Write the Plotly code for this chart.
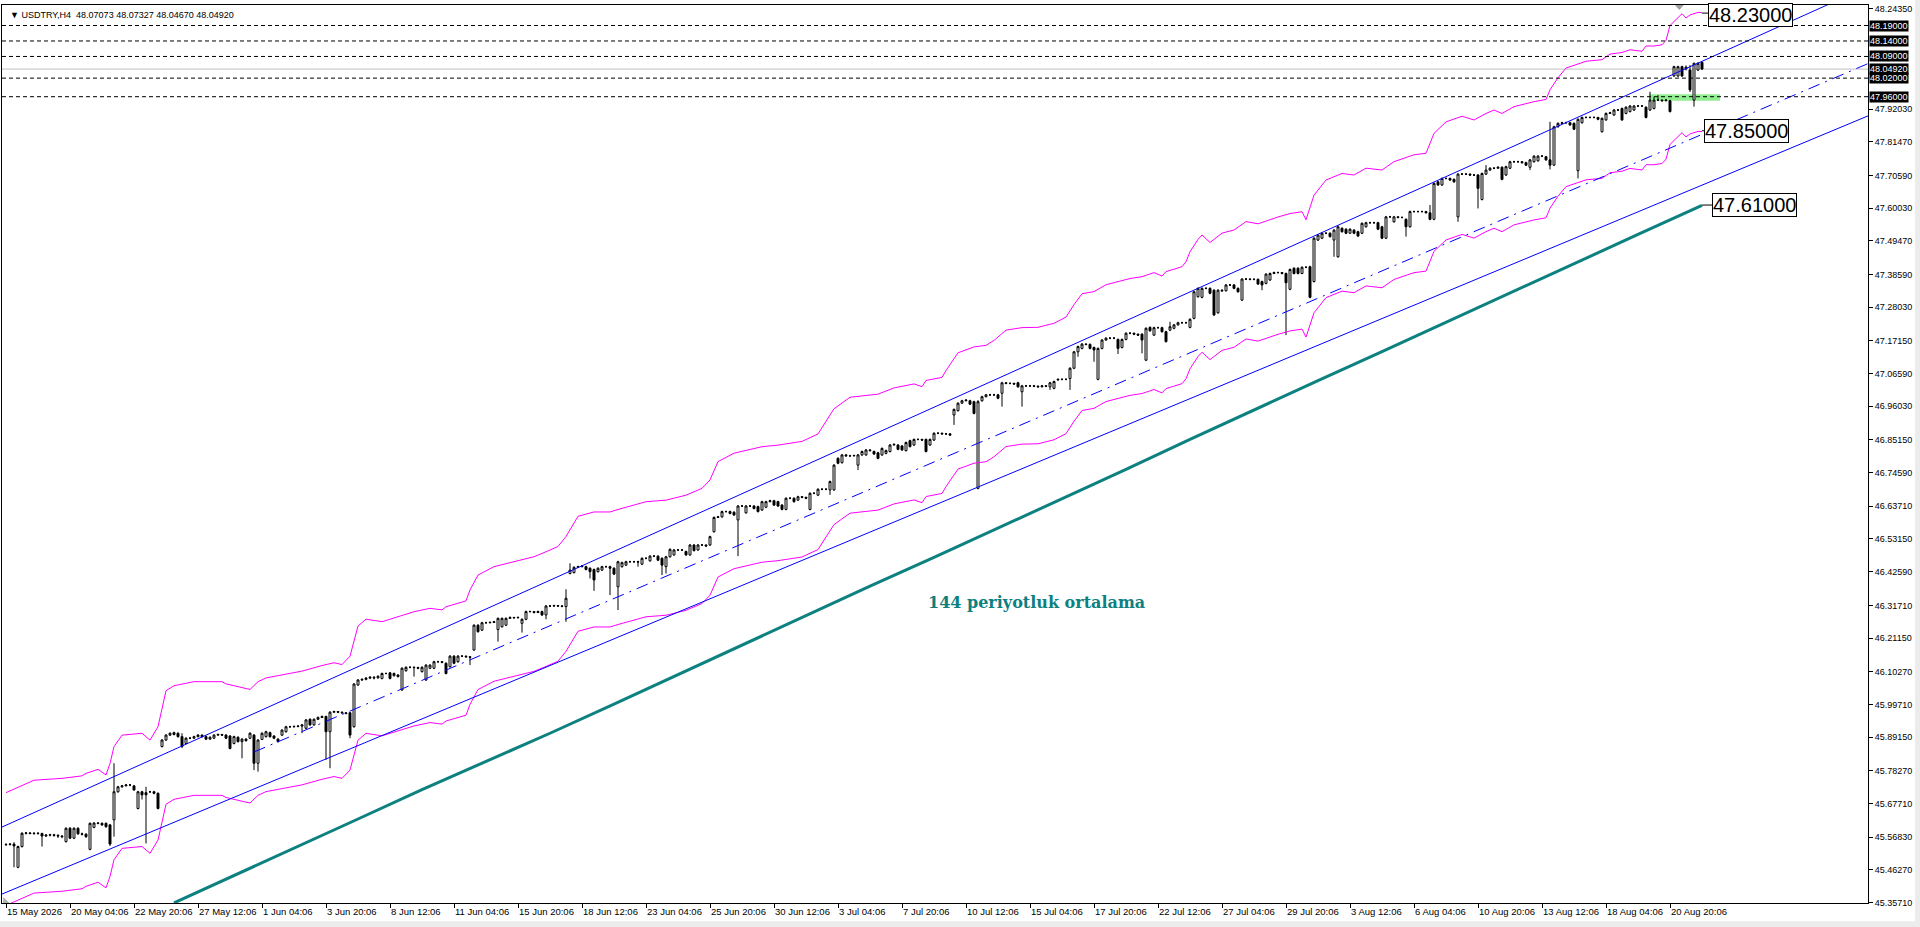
import plotly.graph_objects as go

# ---------------- data ----------------
chart_title = "USDTRY,H4  48.07073 48.07327 48.04670 48.04920"

bar_open = [
    45.544, 45.545, 45.546, 45.471, 45.538, 45.581, 45.582, 45.580, 45.581, 45.580,
    45.572, 45.575, 45.576, 45.574, 45.572, 45.554, 45.597, 45.565, 45.597, 45.579,
    45.578, 45.529, 45.600, 45.614, 45.613, 45.613, 45.608, 45.624, 45.715, 45.731,
    45.734, 45.737, 45.734, 45.661, 45.715, 45.712, 45.715, 45.715, 45.710, 45.861,
    45.882, 45.898, 45.900, 45.904, 45.893, 45.871, 45.888, 45.888, 45.893, 45.898,
    45.893, 45.885, 45.888, 45.898, 45.900, 45.898, 45.895, 45.871, 45.891, 45.877,
    45.885, 45.888, 45.898, 45.807, 45.884, 45.893, 45.906, 45.895, 45.885, 45.898,
    45.909, 45.925, 45.925, 45.926, 45.927, 45.920, 45.949, 45.931, 45.949, 45.955,
    45.958, 45.909, 45.972, 45.974, 45.972, 45.970, 45.970, 45.925, 46.060, 46.076,
    46.078, 46.082, 46.085, 46.083, 46.081, 46.097, 46.099, 46.090, 46.092, 46.044,
    46.106, 46.117, 46.117, 46.116, 46.103, 46.076, 46.114, 46.114, 46.135, 46.135,
    46.130, 46.119, 46.153, 46.135, 46.153, 46.153, 46.151, 46.173, 46.253, 46.237,
    46.261, 46.261, 46.262, 46.239, 46.248, 46.253, 46.275, 46.278, 46.277, 46.259,
    46.272, 46.297, 46.297, 46.294, 46.297, 46.286, 46.315, 46.315, 46.316, 46.315,
    46.313, 46.420, 46.423, 46.440, 46.442, 46.442, 46.437, 46.433, 46.426, 46.431,
    46.442, 46.442, 46.437, 46.377, 46.442, 46.447, 46.458, 46.458, 46.458, 46.450,
    46.469, 46.461, 46.476, 46.476, 46.469, 46.442, 46.474, 46.480, 46.496, 46.496,
    46.491, 46.480, 46.512, 46.496, 46.512, 46.512, 46.512, 46.555, 46.601, 46.603,
    46.620, 46.620, 46.618, 46.593, 46.638, 46.616, 46.638, 46.638, 46.636, 46.625,
    46.634, 46.652, 46.655, 46.652, 46.641, 46.627, 46.663, 46.663, 46.657, 46.668,
    46.666, 46.627, 46.679, 46.673, 46.692, 46.692, 46.690, 46.690, 46.792, 46.778,
    46.803, 46.800, 46.800, 46.770, 46.803, 46.803, 46.819, 46.814, 46.810, 46.803,
    46.808, 46.814, 46.835, 46.835, 46.832, 46.817, 46.849, 46.835, 46.853, 46.853,
    46.853, 46.835, 46.851, 46.873, 46.873, 46.871, 46.871, 46.932, 46.946, 46.970,
    46.978, 46.978, 46.975, 46.695, 46.978, 46.991, 46.997, 46.997, 46.997, 47.002,
    47.036, 47.034, 47.034, 47.036, 47.007, 47.026, 47.026, 47.026, 47.025, 47.023,
    47.026, 47.023, 47.018, 47.045, 47.047, 47.047, 47.050, 47.083, 47.136, 47.147,
    47.161, 47.160, 47.150, 47.047, 47.147, 47.174, 47.180, 47.180, 47.176, 47.150,
    47.176, 47.196, 47.196, 47.193, 47.193, 47.109, 47.215, 47.190, 47.214, 47.214,
    47.201, 47.206, 47.212, 47.223, 47.230, 47.230, 47.215, 47.244, 47.314, 47.312,
    47.341, 47.341, 47.335, 47.262, 47.335, 47.333, 47.352, 47.352, 47.341, 47.303,
    47.371, 47.371, 47.370, 47.370, 47.363, 47.357, 47.368, 47.389, 47.392, 47.392,
    47.389, 47.338, 47.406, 47.406, 47.389, 47.409, 47.411, 47.363, 47.497, 47.503,
    47.519, 47.519, 47.497, 47.443, 47.535, 47.532, 47.519, 47.529, 47.524, 47.519,
    47.540, 47.553, 47.553, 47.553, 47.540, 47.503, 47.572, 47.556, 47.572, 47.570,
    47.564, 47.540, 47.589, 47.589, 47.589, 47.589, 47.585, 47.564, 47.685, 47.675,
    47.696, 47.696, 47.693, 47.572, 47.710, 47.710, 47.710, 47.707, 47.707, 47.628,
    47.710, 47.723, 47.729, 47.729, 47.732, 47.707, 47.729, 47.750, 47.750, 47.750,
    47.747, 47.732, 47.750, 47.753, 47.768, 47.766, 47.756, 47.739, 47.863, 47.874,
    47.876, 47.876, 47.874, 47.721, 47.876, 47.893, 47.893, 47.893, 47.893, 47.847,
    47.885, 47.906, 47.901, 47.917, 47.922, 47.906, 47.912, 47.917, 47.930, 47.930,
    47.926, 47.917, 47.922, 47.949, 47.949, 47.947, 47.947, 48.027, 48.027, 48.057,
    48.050, 48.046, 47.949, 48.046, 48.07073,
]

bar_high = [
    45.548, 45.549, 45.552, 45.541, 45.584, 45.585, 45.585, 45.584, 45.585, 45.583,
    45.578, 45.579, 45.579, 45.578, 45.575, 45.600, 45.601, 45.600, 45.600, 45.583,
    45.581, 45.616, 45.617, 45.617, 45.616, 45.616, 45.611, 45.807, 45.734, 45.737,
    45.740, 45.740, 45.737, 45.718, 45.718, 45.731, 45.718, 45.718, 45.713, 45.885,
    45.901, 45.907, 45.909, 45.907, 45.904, 45.891, 45.892, 45.896, 45.901, 45.900,
    45.896, 45.894, 45.901, 45.903, 45.902, 45.901, 45.898, 45.896, 45.894, 45.888,
    45.888, 45.907, 45.901, 45.885, 45.907, 45.912, 45.909, 45.898, 45.888, 45.917,
    45.928, 45.928, 45.929, 45.930, 45.934, 45.950, 45.952, 45.952, 45.958, 45.961,
    45.961, 45.975, 45.977, 45.976, 45.974, 45.972, 45.973, 46.066, 46.079, 46.081,
    46.085, 46.088, 46.088, 46.091, 46.100, 46.100, 46.102, 46.100, 46.095, 46.117,
    46.120, 46.120, 46.120, 46.119, 46.120, 46.127, 46.127, 46.138, 46.138, 46.137,
    46.133, 46.156, 46.156, 46.156, 46.156, 46.155, 46.153, 46.256, 46.256, 46.264,
    46.264, 46.265, 46.267, 46.278, 46.278, 46.278, 46.281, 46.280, 46.281, 46.275,
    46.300, 46.300, 46.299, 46.300, 46.300, 46.318, 46.318, 46.319, 46.318, 46.318,
    46.369, 46.453, 46.443, 46.445, 46.447, 46.445, 46.440, 46.436, 46.440, 46.445,
    46.445, 46.445, 46.440, 46.461, 46.458, 46.461, 46.461, 46.461, 46.461, 46.472,
    46.472, 46.479, 46.479, 46.479, 46.472, 46.477, 46.501, 46.499, 46.499, 46.499,
    46.494, 46.515, 46.515, 46.515, 46.515, 46.514, 46.542, 46.604, 46.606, 46.623,
    46.623, 46.623, 46.621, 46.641, 46.641, 46.641, 46.641, 46.641, 46.639, 46.655,
    46.655, 46.658, 46.658, 46.655, 46.644, 46.666, 46.666, 46.666, 46.671, 46.670,
    46.668, 46.682, 46.682, 46.695, 46.695, 46.695, 46.720, 46.773, 46.795, 46.806,
    46.806, 46.803, 46.804, 46.806, 46.817, 46.822, 46.822, 46.817, 46.813, 46.827,
    46.820, 46.838, 46.840, 46.838, 46.835, 46.846, 46.852, 46.856, 46.856, 46.855,
    46.856, 46.856, 46.876, 46.876, 46.875, 46.874, 46.873, 46.953, 46.973, 46.981,
    46.983, 46.981, 46.978, 46.980, 46.994, 47.000, 47.000, 47.000, 47.000, 47.039,
    47.038, 47.037, 47.036, 47.039, 47.029, 47.029, 47.029, 47.029, 47.027, 47.029,
    47.028, 47.039, 47.043, 47.050, 47.050, 47.050, 47.086, 47.139, 47.156, 47.164,
    47.163, 47.163, 47.153, 47.150, 47.177, 47.183, 47.183, 47.183, 47.179, 47.179,
    47.199, 47.199, 47.198, 47.195, 47.196, 47.215, 47.218, 47.217, 47.217, 47.217,
    47.204, 47.233, 47.226, 47.233, 47.233, 47.233, 47.244, 47.333, 47.344, 47.344,
    47.344, 47.344, 47.338, 47.338, 47.338, 47.355, 47.355, 47.355, 47.344, 47.374,
    47.374, 47.373, 47.373, 47.373, 47.366, 47.390, 47.392, 47.395, 47.395, 47.394,
    47.392, 47.405, 47.409, 47.409, 47.412, 47.412, 47.414, 47.506, 47.516, 47.522,
    47.522, 47.522, 47.532, 47.543, 47.538, 47.535, 47.535, 47.532, 47.527, 47.554,
    47.556, 47.556, 47.556, 47.556, 47.543, 47.575, 47.575, 47.575, 47.574, 47.573,
    47.567, 47.592, 47.592, 47.592, 47.592, 47.591, 47.610, 47.683, 47.688, 47.699,
    47.699, 47.699, 47.696, 47.713, 47.713, 47.713, 47.712, 47.710, 47.710, 47.715,
    47.739, 47.732, 47.732, 47.735, 47.735, 47.737, 47.753, 47.753, 47.753, 47.752,
    47.750, 47.759, 47.771, 47.771, 47.771, 47.769, 47.879, 47.866, 47.877, 47.879,
    47.879, 47.879, 47.877, 47.890, 47.896, 47.896, 47.896, 47.896, 47.895, 47.893,
    47.909, 47.911, 47.920, 47.920, 47.925, 47.929, 47.933, 47.933, 47.933, 47.933,
    47.929, 47.976, 47.960, 47.965, 47.951, 47.952, 47.950, 48.060, 48.060, 48.060,
    48.061, 48.062, 48.070, 48.071, 48.07327,
]

bar_low = [
    45.540, 45.541, 45.471, 45.468, 45.535, 45.577, 45.578, 45.576, 45.577, 45.538,
    45.569, 45.571, 45.570, 45.566, 45.565, 45.551, 45.562, 45.562, 45.576, 45.574,
    45.566, 45.526, 45.597, 45.610, 45.605, 45.599, 45.540, 45.570, 45.712, 45.728,
    45.733, 45.733, 45.718, 45.658, 45.690, 45.548, 45.711, 45.707, 45.658, 45.858,
    45.879, 45.895, 45.897, 45.890, 45.856, 45.868, 45.885, 45.886, 45.891, 45.890,
    45.882, 45.883, 45.886, 45.896, 45.895, 45.885, 45.852, 45.868, 45.874, 45.823,
    45.877, 45.885, 45.785, 45.780, 45.882, 45.890, 45.890, 45.885, 45.874, 45.895,
    45.906, 45.922, 45.922, 45.923, 45.904, 45.917, 45.928, 45.928, 45.947, 45.953,
    45.818, 45.791, 45.970, 45.969, 45.967, 45.965, 45.888, 45.922, 46.057, 46.073,
    46.075, 46.079, 46.078, 46.080, 46.078, 46.094, 46.078, 46.087, 46.084, 46.041,
    46.103, 46.114, 46.087, 46.111, 46.100, 46.073, 46.111, 46.111, 46.132, 46.130,
    46.094, 46.116, 46.127, 46.132, 46.150, 46.148, 46.124, 46.170, 46.229, 46.234,
    46.258, 46.259, 46.260, 46.200, 46.245, 46.250, 46.273, 46.274, 46.275, 46.229,
    46.269, 46.294, 46.291, 46.292, 46.283, 46.272, 46.312, 46.313, 46.312, 46.311,
    46.264, 46.417, 46.420, 46.438, 46.440, 46.430, 46.404, 46.364, 46.423, 46.428,
    46.439, 46.350, 46.415, 46.302, 46.439, 46.444, 46.455, 46.455, 46.442, 46.447,
    46.466, 46.458, 46.473, 46.460, 46.415, 46.420, 46.471, 46.477, 46.493, 46.493,
    46.477, 46.477, 46.491, 46.493, 46.509, 46.506, 46.509, 46.552, 46.599, 46.600,
    46.617, 46.611, 46.606, 46.476, 46.635, 46.613, 46.635, 46.627, 46.617, 46.622,
    46.631, 46.650, 46.638, 46.635, 46.624, 46.624, 46.660, 46.649, 46.654, 46.663,
    46.660, 46.624, 46.676, 46.670, 46.689, 46.689, 46.674, 46.687, 46.773, 46.775,
    46.797, 46.797, 46.798, 46.754, 46.800, 46.800, 46.814, 46.803, 46.789, 46.800,
    46.805, 46.811, 46.834, 46.818, 46.816, 46.814, 46.827, 46.832, 46.850, 46.848,
    46.811, 46.832, 46.848, 46.870, 46.868, 46.868, 46.864, 46.900, 46.943, 46.968,
    46.976, 46.964, 46.934, 46.692, 46.975, 46.989, 46.994, 46.994, 46.983, 46.959,
    47.031, 47.031, 47.029, 47.020, 46.959, 47.023, 47.023, 47.022, 47.020, 47.021,
    47.022, 47.013, 47.015, 47.043, 47.044, 47.044, 47.013, 47.080, 47.120, 47.144,
    47.157, 47.144, 47.104, 47.044, 47.144, 47.172, 47.177, 47.177, 47.129, 47.147,
    47.173, 47.193, 47.190, 47.187, 47.131, 47.106, 47.201, 47.187, 47.211, 47.198,
    47.166, 47.203, 47.209, 47.221, 47.227, 47.227, 47.212, 47.241, 47.311, 47.309,
    47.338, 47.322, 47.252, 47.259, 47.330, 47.331, 47.349, 47.338, 47.327, 47.300,
    47.368, 47.367, 47.367, 47.352, 47.335, 47.354, 47.365, 47.387, 47.389, 47.386,
    47.190, 47.335, 47.386, 47.386, 47.387, 47.406, 47.309, 47.360, 47.494, 47.500,
    47.516, 47.505, 47.443, 47.440, 47.521, 47.516, 47.517, 47.516, 47.507, 47.516,
    47.537, 47.550, 47.550, 47.529, 47.500, 47.500, 47.569, 47.553, 47.567, 47.567,
    47.508, 47.537, 47.586, 47.586, 47.586, 47.583, 47.561, 47.561, 47.672, 47.672,
    47.693, 47.688, 47.682, 47.556, 47.707, 47.707, 47.704, 47.704, 47.599, 47.625,
    47.707, 47.721, 47.726, 47.727, 47.690, 47.704, 47.726, 47.747, 47.747, 47.744,
    47.736, 47.723, 47.747, 47.750, 47.765, 47.753, 47.725, 47.736, 47.860, 47.872,
    47.873, 47.866, 47.852, 47.696, 47.873, 47.890, 47.890, 47.890, 47.884, 47.844,
    47.882, 47.904, 47.898, 47.914, 47.882, 47.903, 47.909, 47.914, 47.927, 47.927,
    47.890, 47.914, 47.919, 47.946, 47.944, 47.945, 47.909, 48.024, 48.024, 48.024,
    48.045, 47.975, 47.928, 48.043, 48.04670,
]

bar_close = [
    45.545, 45.546, 45.540, 45.538, 45.581, 45.582, 45.580, 45.581, 45.580, 45.572,
    45.575, 45.576, 45.574, 45.572, 45.570, 45.597, 45.565, 45.597, 45.579, 45.578,
    45.570, 45.613, 45.614, 45.613, 45.608, 45.602, 45.546, 45.715, 45.731, 45.734,
    45.737, 45.737, 45.721, 45.715, 45.705, 45.705, 45.715, 45.710, 45.661, 45.882,
    45.898, 45.904, 45.906, 45.893, 45.861, 45.888, 45.888, 45.893, 45.898, 45.893,
    45.885, 45.891, 45.898, 45.900, 45.898, 45.888, 45.855, 45.893, 45.877, 45.885,
    45.880, 45.904, 45.807, 45.882, 45.904, 45.909, 45.893, 45.888, 45.877, 45.914,
    45.925, 45.925, 45.926, 45.927, 45.931, 45.947, 45.931, 45.949, 45.955, 45.958,
    45.909, 45.972, 45.974, 45.972, 45.970, 45.968, 45.898, 46.063, 46.076, 46.078,
    46.082, 46.085, 46.083, 46.088, 46.097, 46.097, 46.081, 46.097, 46.087, 46.114,
    46.117, 46.117, 46.116, 46.114, 46.117, 46.124, 46.124, 46.135, 46.135, 46.133,
    46.097, 46.153, 46.130, 46.153, 46.153, 46.151, 46.149, 46.253, 46.232, 46.261,
    46.261, 46.262, 46.264, 46.275, 46.275, 46.275, 46.278, 46.277, 46.278, 46.272,
    46.297, 46.297, 46.294, 46.297, 46.286, 46.315, 46.315, 46.316, 46.315, 46.314,
    46.340, 46.431, 46.440, 46.442, 46.444, 46.433, 46.426, 46.399, 46.437, 46.442,
    46.442, 46.437, 46.418, 46.458, 46.455, 46.458, 46.458, 46.458, 46.457, 46.469,
    46.469, 46.476, 46.476, 46.463, 46.447, 46.474, 46.498, 46.496, 46.496, 46.496,
    46.480, 46.512, 46.494, 46.512, 46.512, 46.509, 46.539, 46.601, 46.603, 46.620,
    46.620, 46.614, 46.609, 46.638, 46.638, 46.638, 46.638, 46.630, 46.620, 46.652,
    46.652, 46.655, 46.641, 46.638, 46.627, 46.663, 46.663, 46.652, 46.668, 46.666,
    46.663, 46.679, 46.679, 46.692, 46.692, 46.692, 46.717, 46.770, 46.776, 46.803,
    46.800, 46.800, 46.801, 46.803, 46.814, 46.819, 46.817, 46.806, 46.792, 46.824,
    46.817, 46.835, 46.837, 46.821, 46.819, 46.843, 46.830, 46.853, 46.853, 46.851,
    46.814, 46.853, 46.873, 46.873, 46.871, 46.871, 46.867, 46.950, 46.970, 46.978,
    46.980, 46.967, 46.937, 46.975, 46.991, 46.997, 46.997, 46.997, 46.986, 47.036,
    47.034, 47.034, 47.032, 47.023, 47.026, 47.026, 47.026, 47.025, 47.023, 47.026,
    47.025, 47.036, 47.040, 47.047, 47.047, 47.047, 47.083, 47.136, 47.153, 47.161,
    47.160, 47.147, 47.142, 47.147, 47.174, 47.180, 47.180, 47.180, 47.147, 47.176,
    47.196, 47.196, 47.193, 47.190, 47.174, 47.212, 47.204, 47.214, 47.214, 47.201,
    47.169, 47.217, 47.223, 47.230, 47.230, 47.230, 47.241, 47.330, 47.341, 47.341,
    47.341, 47.325, 47.255, 47.335, 47.333, 47.352, 47.352, 47.341, 47.330, 47.371,
    47.371, 47.370, 47.370, 47.355, 47.352, 47.387, 47.389, 47.392, 47.392, 47.389,
    47.359, 47.402, 47.389, 47.389, 47.409, 47.409, 47.312, 47.503, 47.513, 47.519,
    47.519, 47.508, 47.529, 47.540, 47.524, 47.519, 47.532, 47.519, 47.510, 47.551,
    47.553, 47.553, 47.553, 47.532, 47.503, 47.572, 47.572, 47.572, 47.570, 47.570,
    47.540, 47.589, 47.589, 47.589, 47.589, 47.585, 47.564, 47.680, 47.675, 47.696,
    47.696, 47.691, 47.685, 47.710, 47.710, 47.710, 47.707, 47.707, 47.664, 47.712,
    47.723, 47.729, 47.729, 47.732, 47.693, 47.734, 47.750, 47.750, 47.750, 47.747,
    47.739, 47.756, 47.768, 47.768, 47.768, 47.756, 47.739, 47.863, 47.874, 47.876,
    47.876, 47.869, 47.855, 47.887, 47.893, 47.893, 47.893, 47.893, 47.887, 47.890,
    47.906, 47.908, 47.917, 47.917, 47.885, 47.926, 47.930, 47.930, 47.930, 47.930,
    47.893, 47.949, 47.949, 47.949, 47.947, 47.949, 47.912, 48.057, 48.057, 48.027,
    48.055, 47.982, 48.068, 48.068, 48.04920,
]

date_ticks = [0, 16, 32, 48, 64, 80, 96, 112, 128, 144, 160, 176, 192, 208,
              224, 240, 256, 272, 288, 304, 320, 336, 352, 368, 384, 400, 416]
date_labels = ["15 May 2026", "20 May 04:06", "22 May 20:06", "27 May 12:06",
               "1 Jun 04:06", "3 Jun 20:06", "8 Jun 12:06", "11 Jun 04:06",
               "15 Jun 20:06", "18 Jun 12:06", "23 Jun 04:06", "25 Jun 20:06",
               "30 Jun 12:06", "3 Jul 04:06", "7 Jul 20:06", "10 Jul 12:06",
               "15 Jul 04:06", "17 Jul 20:06", "22 Jul 12:06", "27 Jul 04:06",
               "29 Jul 20:06", "3 Aug 12:06", "6 Aug 04:06", "10 Aug 20:06",
               "13 Aug 12:06", "18 Aug 04:06", "20 Aug 20:06"]

price_ticks = [48.24350, 47.92030, 47.81470, 47.70590, 47.60030, 47.49470,
               47.38590, 47.28030, 47.17150, 47.06590, 46.96030, 46.85150,
               46.74590, 46.63710, 46.53150, 46.42590, 46.31710, 46.21150,
               46.10270, 45.99710, 45.89150, 45.78270, 45.67710, 45.56830,
               45.46270, 45.35710]

level_prices = [48.19, 48.14, 48.09, 48.02, 47.96]        # dashed horizontal lines
bid_price = 48.0492                                         # grey bid line
axis_box_prices = [48.19, 48.14, 48.09, 48.0492, 48.02, 47.96]

zone_bars = [410.75, 428.5]                                 # green rectangle
zone_prices = [47.947, 47.968]

# envelope centre line, band width in percent
env_bars = [0, 4, 7, 14, 19, 20, 23, 25, 26, 27,
            29, 34, 36, 38, 40, 42, 47, 54, 55, 61,
            63, 65, 74, 79, 82, 84, 86, 88, 90, 94,
            98, 102, 106, 109, 110, 115, 116, 118, 122, 127,
            132, 135, 138, 140, 143, 147, 151, 153, 160, 165,
            170, 174, 176, 178, 182, 186, 189, 193, 199, 203,
            207, 211, 218, 222, 227, 229, 230, 234, 235, 238,
            242, 245, 247, 250, 254, 258, 262, 265, 267, 269,
            272, 275, 279, 281, 284, 287, 289, 290, 294, 295,
            296, 298, 299, 301, 304, 307, 310, 313, 318, 321,
            324, 325, 327, 330, 334, 337, 340, 344, 347, 352,
            355, 357, 360, 364, 367, 370, 372, 374, 377, 382,
            385, 386, 388, 390, 395, 399, 401, 404, 406, 409,
            410, 412, 414, 415, 416, 419, 420, 421, 423, 424]
env_mid = [45.530, 45.553, 45.570, 45.576, 45.584, 45.592, 45.605, 45.587, 45.624, 45.678,
           45.715, 45.721, 45.699, 45.742, 45.858, 45.874, 45.887, 45.887, 45.880, 45.862,
           45.887, 45.899, 45.921, 45.939, 45.948, 45.942, 45.969, 46.066, 46.088, 46.080,
           46.096, 46.112, 46.123, 46.118, 46.128, 46.147, 46.182, 46.230, 46.257, 46.273,
           46.289, 46.305, 46.322, 46.354, 46.419, 46.433, 46.433, 46.441, 46.466, 46.471,
           46.487, 46.509, 46.536, 46.595, 46.622, 46.634, 46.643, 46.648, 46.660, 46.684,
           46.765, 46.802, 46.812, 46.832, 46.845, 46.836, 46.856, 46.866, 46.888, 46.945,
           46.964, 46.969, 46.985, 47.018, 47.026, 47.027, 47.040, 47.060, 47.100, 47.135,
           47.142, 47.164, 47.179, 47.184, 47.190, 47.203, 47.192, 47.206, 47.222, 47.238,
           47.270, 47.310, 47.324, 47.300, 47.330, 47.340, 47.367, 47.360, 47.382, 47.393,
           47.399, 47.373, 47.452, 47.501, 47.522, 47.517, 47.539, 47.533, 47.560, 47.582,
           47.587, 47.651, 47.688, 47.706, 47.694, 47.715, 47.726, 47.715, 47.737, 47.753,
           47.760, 47.791, 47.830, 47.861, 47.883, 47.888, 47.906, 47.911, 47.920, 47.915,
           47.932, 47.932, 47.936, 47.950, 47.998, 48.036, 48.022, 48.032, 48.040, 48.040]
env_pct = 0.4

# 144-period moving average (teal)
ma_bars = [42, 56, 72, 88, 104, 120, 136, 152, 168, 184, 200, 216, 232,
           248, 264, 280, 296, 312, 328, 344, 360, 376, 392, 408, 424]
ma_vals = [45.356, 45.438, 45.533, 45.627, 45.722, 45.813, 45.904, 45.998,
           46.093, 46.189, 46.285, 46.379, 46.472, 46.566, 46.662, 46.756,
           46.853, 46.949, 47.043, 47.137, 47.232, 47.326, 47.420, 47.515, 47.609]

# blue trend channel (end points)
chan_up_bars = [-1, 470]
chan_up_vals = [45.601, 48.342]
chan_lo_bars = [-1, 470]
chan_lo_vals = [45.3846, 47.9222]
chan_mid_bars = [62, 470]
chan_mid_vals = [45.8434, 48.0916]

end_label_texts = ["48.23000", "47.85000", "47.61000"]
end_label_values = [48.23, 47.85, 47.61]

note_text = "144 periyotluk ortalama"

# ---------------- figure ----------------
n = len(bar_close)
assert len(bar_open) == n and len(bar_high) == n and len(bar_low) == n, (len(bar_open), len(bar_high), len(bar_low), n)
assert len(env_bars) == len(env_mid)
bars = list(range(n))

BLUE = "#0000FF"
MAGENTA = "#FF00FF"
TEAL = "#0d8080"
FONT = "Liberation Sans, Arial, sans-serif"

fig = go.Figure()

fig.add_trace(go.Candlestick(
    x=bars, open=bar_open, high=bar_high, low=bar_low, close=bar_close,
    increasing=dict(line=dict(color="black", width=1), fillcolor="white"),
    decreasing=dict(line=dict(color="black", width=1), fillcolor="black"),
    whiskerwidth=0, hoverinfo="skip", showlegend=False,
))

env_upper = [v * (1 + env_pct / 100) for v in env_mid]
env_lower = [v * (1 - env_pct / 100) for v in env_mid]
for ys in (env_upper, env_lower):
    fig.add_trace(go.Scatter(x=env_bars, y=ys, mode="lines",
                             line=dict(color=MAGENTA, width=1),
                             hoverinfo="skip", showlegend=False))

fig.add_trace(go.Scatter(x=ma_bars, y=ma_vals, mode="lines",
                         line=dict(color=TEAL, width=3),
                         hoverinfo="skip", showlegend=False))

for xs, ys, dash in ((chan_up_bars, chan_up_vals, "solid"),
                     (chan_lo_bars, chan_lo_vals, "solid"),
                     (chan_mid_bars, chan_mid_vals, "12px,6px,2px,6px")):
    fig.add_trace(go.Scatter(x=xs, y=ys, mode="lines",
                             line=dict(color=BLUE, width=1, dash=dash),
                             hoverinfo="skip", showlegend=False))

shapes = []
# green zone (background)
shapes.append(dict(type="rect", xref="x", yref="y", layer="below",
                   x0=zone_bars[0], x1=zone_bars[1], y0=zone_prices[0], y1=zone_prices[1],
                   fillcolor="#90EE90", line=dict(width=0)))
# bid line
shapes.append(dict(type="line", xref="paper", yref="y", x0=0, x1=1, y0=bid_price, y1=bid_price,
                   line=dict(color="#c0c0c0", width=1), layer="below"))
# dashed levels
for p in level_prices:
    shapes.append(dict(type="line", xref="paper", yref="y", x0=0, x1=1, y0=p, y1=p,
                       line=dict(color="black", width=1, dash="4px,3px"), layer="above"))
# connector ticks from indicator ends to the price boxes
box_left = [425.5, 424.5, 426.5]
for v, bl in zip(end_label_values, box_left):
    shapes.append(dict(type="line", xref="x", yref="y", x0=n - 1, x1=bl, y0=v, y1=v,
                       line=dict(color="black", width=1)))
# small grey markers (chart shift / scroll)
shapes.append(dict(type="path", xref="paper", yref="paper",
                   path="M 0.8965 1 L 0.9013 1 L 0.8989 0.9944 Z",
                   fillcolor="#a0a0a0", line=dict(width=0)))
shapes.append(dict(type="path", xref="paper", yref="paper",
                   path="M 0.0006 0.0066 L 0.0006 0 L 0.0040 0 Z",
                   fillcolor="#b0b0b0", line=dict(width=0)))
# window frame strips
shapes.append(dict(type="rect", xref="paper", yref="paper", x0=-0.01, x1=1.03,
                   y0=-0.0204, y1=-0.04, fillcolor="#ececec", line=dict(width=0)))
shapes.append(dict(type="rect", xref="paper", yref="paper", x0=1.0252, x1=1.03,
                   y0=-0.04, y1=1.01, fillcolor="#ececec", line=dict(width=0)))

annotations = []
annotations.append(dict(text="\u25bc " + chart_title, xref="paper", yref="paper",
                        x=0, y=1, xanchor="left", yanchor="top", xshift=6, yshift=-3,
                        showarrow=False, font=dict(family=FONT, size=9, color="black")))
for p in axis_box_prices:
    annotations.append(dict(text="%.5f" % p, xref="paper", yref="y", x=1, y=p,
                            xanchor="left", yanchor="middle", xshift=1,
                            showarrow=False, bgcolor="black", borderpad=0,
                            font=dict(family=FONT, size=9, color="white")))
box_y = [48.225, 47.85, 47.61]
for t, bl, by in zip(end_label_texts, box_left, box_y):
    annotations.append(dict(text=t, xref="x", yref="y", x=bl, y=by,
                            xanchor="left", yanchor="middle", showarrow=False,
                            bgcolor="white", bordercolor="black", borderwidth=1, borderpad=0,
                            font=dict(family=FONT, size=20, color="black")))
annotations.append(dict(text="<b>" + note_text + "</b>", xref="x", yref="y", x=257.6, y=46.326,
                        xanchor="center", yanchor="middle", showarrow=False,
                        font=dict(family="DejaVu Serif, serif", size=16, color=TEAL)))

fig.update_layout(
    width=1920, height=927, autosize=False,
    margin=dict(l=2, r=52, t=5, b=24, pad=0),
    paper_bgcolor="white", plot_bgcolor="white",
    showlegend=False,
    font=dict(family=FONT, size=9, color="black"),
    boxgap=0.3, boxgroupgap=0.3,
    shapes=shapes, annotations=annotations,
    xaxis=dict(range=[-1, 465.5], showgrid=False, zeroline=False,
               showline=True, mirror=True, linecolor="black", linewidth=1,
               ticks="outside", ticklen=4, tickcolor="black", tickwidth=1,
               tickvals=date_ticks, ticktext=date_labels,
               ticklabelposition="outside right", tickangle=0, automargin=False,
               tickfont=dict(family=FONT, size=9.5, color="black"),
               rangeslider=dict(visible=False), fixedrange=True),
    yaxis=dict(side="right", range=[45.3557, 48.2562], showgrid=False, zeroline=False,
               showline=True, mirror=True, linecolor="black", linewidth=1,
               ticks="outside", ticklen=4, tickcolor="black", tickwidth=1,
               tickvals=price_ticks, ticktext=["%.5f" % v for v in price_ticks],
               automargin=False,
               tickfont=dict(family=FONT, size=9, color="black"), fixedrange=True),
)

fig.write_html("out.html", config={"displayModeBar": False},
               post_script="document.body.style.margin='0';document.body.style.overflow='hidden';")
